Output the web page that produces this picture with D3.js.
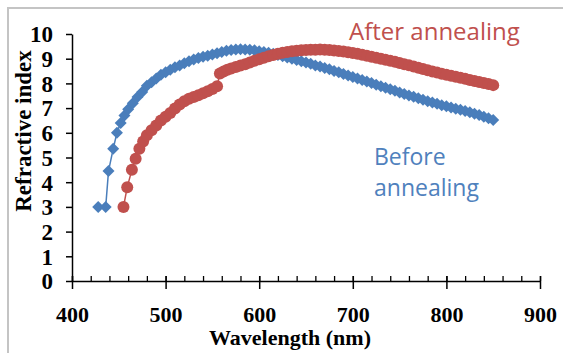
<!DOCTYPE html>
<html>
<head>
<meta charset="utf-8">
<script src="https://cdn.jsdelivr.net/npm/d3@7"></script>
<style>
  html, body { margin: 0; padding: 0; background: #fff; }
  svg { display: block; }
</style>
</head>
<body>
<svg id="chart" width="563" height="353"></svg>
<script>
// wavelength (nm) and refractive index
const beforeNm = [428, 436, 439, 444, 448, 452, 456, 460, 465, 470, 475, 480, 485, 490, 495, 500,
    505, 510, 515, 520, 525, 530, 535, 540, 545, 550, 555, 560, 565, 570, 575, 580, 585, 590, 595,
    600, 605, 610, 615, 620, 625, 630, 635, 640, 645, 650, 655, 660, 665, 670, 675, 680, 685, 690,
    695, 700, 705, 710, 715, 720, 725, 730, 735, 740, 745, 750, 755, 760, 765, 770, 775, 780, 785,
    790, 795, 800, 805, 810, 815, 820, 825, 830, 835, 840, 845, 850];
const beforeN = [3.0, 3.0, 4.45, 5.35, 6.0, 6.4, 6.7, 6.95, 7.2, 7.45, 7.65, 7.9, 8.05, 8.2, 8.35, 8.45,
    8.55, 8.65, 8.72, 8.82, 8.9, 8.97, 9.03, 9.08, 9.12, 9.17, 9.22, 9.27, 9.32, 9.35, 9.37, 9.38, 9.37, 9.36, 9.34,
    9.3, 9.27, 9.24, 9.2, 9.15, 9.1, 9.05, 9.0, 8.95, 8.9, 8.85, 8.8, 8.72, 8.68, 8.62, 8.57, 8.5, 8.45, 8.38,
    8.32, 8.26, 8.2, 8.14, 8.08, 8.02, 7.95, 7.88, 7.82, 7.76, 7.7, 7.63, 7.57, 7.51, 7.46, 7.4, 7.34, 7.28, 7.23,
    7.18, 7.12, 7.07, 7.02, 6.97, 6.93, 6.88, 6.83, 6.77, 6.72, 6.65, 6.59, 6.52];

const afterNm = [455, 459, 464, 468, 472, 476, 480, 485, 490, 495, 500, 505, 510, 515, 520, 525, 530,
    535, 540, 545, 550, 555, 558, 562, 566, 570, 575, 580, 585, 590, 595, 600, 605, 610, 615, 620, 625,
    630, 635, 640, 645, 650, 655, 660, 665, 670, 675, 680, 685, 690, 695, 700, 705, 710, 715, 720, 725,
    730, 735, 740, 745, 750, 755, 760, 765, 770, 775, 780, 785, 790, 795, 800, 805, 810, 815, 820, 825,
    830, 835, 840, 845, 850];
const afterN = [3.0, 3.8, 4.5, 4.95, 5.35, 5.65, 5.9, 6.1, 6.3, 6.5, 6.65, 6.8, 6.98, 7.15, 7.28, 7.38, 7.45,
    7.52, 7.6, 7.68, 7.77, 7.88, 8.4, 8.48, 8.55, 8.6, 8.66, 8.72, 8.78, 8.85, 8.92, 8.98, 9.04, 9.1, 9.15, 9.2, 9.24,
    9.27, 9.3, 9.32, 9.34, 9.35, 9.36, 9.36, 9.37, 9.36, 9.35, 9.33, 9.31, 9.29, 9.26, 9.23, 9.2, 9.16, 9.12, 9.08, 9.04,
    9.0, 8.96, 8.92, 8.88, 8.83, 8.78, 8.73, 8.68, 8.63, 8.58, 8.53, 8.48, 8.44, 8.39, 8.35, 8.31, 8.27, 8.23, 8.19, 8.14,
    8.1, 8.06, 8.02, 7.98, 7.93];

const xTicks = [400, 500, 600, 700, 800, 900];
const xMinorTicks = d3.range(400, 901, 20);
const yTicks = [0, 1, 2, 3, 4, 5, 6, 7, 8, 9, 10];

const blue = '#4a7ebb';
const red = '#c0504d';
const serif = '"Liberation Serif", "Times New Roman", serif';
const sans = '"Open Sans", sans-serif';

const svg = d3.select('#chart');

// chart frame (open at right and bottom, cropped)
svg.append('rect')
    .attr('x', 8).attr('y', 8)
    .attr('width', 700).attr('height', 500)
    .attr('fill', 'none')
    .attr('stroke', '#c4c4c4')
    .attr('stroke-width', 2);

const x = d3.scaleLinear().domain([400, 900]).range([72, 540]);
const y = d3.scaleLinear().domain([0, 10]).range([281, 34]);

// y axis
const yAxis = svg.append('g')
    .attr('transform', `translate(${x(400)},0)`)
    .call(d3.axisLeft(y).tickValues(yTicks).tickSize(6).tickPadding(13).tickSizeOuter(0));
yAxis.select('.domain').attr('stroke', '#000').attr('stroke-width', 1.5);
yAxis.selectAll('.tick line').attr('stroke', '#000').attr('stroke-width', 1.5);
yAxis.selectAll('.tick text')
    .attr('font-family', serif).attr('font-weight', 'bold').attr('font-size', 23)
    .attr('fill', '#000').attr('dy', '0.34em');

// x axis minor ticks (inside only)
const xMinor = svg.append('g')
    .attr('transform', `translate(0,${y(0)})`)
    .call(d3.axisTop(x).tickValues(xMinorTicks).tickSize(5).tickFormat('').tickSizeOuter(0));
xMinor.select('.domain').remove();
xMinor.selectAll('.tick line').attr('stroke', '#000').attr('stroke-width', 1.3);

// x axis major ticks crossing the line
const xAxis = svg.append('g')
    .attr('transform', `translate(0,${y(0)})`)
    .call(d3.axisBottom(x).tickValues(xTicks).tickSize(8).tickPadding(17).tickSizeOuter(0));
xAxis.select('.domain').attr('stroke', '#000').attr('stroke-width', 1.5);
xAxis.selectAll('.tick line').attr('y1', -5).attr('stroke', '#000').attr('stroke-width', 1.5);
xAxis.selectAll('.tick text')
    .attr('font-family', serif).attr('font-weight', 'bold').attr('font-size', 22)
    .attr('fill', '#000');

// axis titles
svg.append('text')
    .attr('x', 290).attr('y', 345)
    .attr('text-anchor', 'middle')
    .attr('font-family', serif).attr('font-weight', 'bold').attr('font-size', 22)
    .text('Wavelength (nm)');

svg.append('text')
    .attr('transform', 'translate(31,131) rotate(-90)')
    .attr('text-anchor', 'middle')
    .attr('font-family', serif).attr('font-weight', 'bold').attr('font-size', 23)
    .text('Refractive index');

// series
const line = d3.line().x(d => x(d[0])).y(d => y(d[1]));
const beforeData = d3.zip(beforeNm, beforeN);
const afterData = d3.zip(afterNm, afterN);

svg.append('path')
    .datum(beforeData)
    .attr('d', line)
    .attr('fill', 'none').attr('stroke', blue).attr('stroke-width', 1.5);

svg.append('g').selectAll('path')
    .data(beforeData)
    .join('path')
    .attr('d', 'M0,-6L6,0L0,6L-6,0Z')
    .attr('transform', d => `translate(${x(d[0])},${y(d[1])})`)
    .attr('fill', blue);

svg.append('path')
    .datum(afterData)
    .attr('d', line)
    .attr('fill', 'none').attr('stroke', red).attr('stroke-width', 1.5);

svg.append('g').selectAll('circle')
    .data(afterData)
    .join('circle')
    .attr('cx', d => x(d[0]))
    .attr('cy', d => y(d[1]))
    .attr('r', 6)
    .attr('fill', red);

// annotations
svg.append('text')
    .attr('x', 349).attr('y', 40)
    .attr('font-family', sans).attr('font-size', 24)
    .attr('fill', red)
    .text('After annealing');

svg.append('text')
    .attr('font-family', sans).attr('font-size', 23)
    .attr('fill', '#4f81bd')
    .selectAll('tspan')
    .data(['Before', 'annealing'])
    .join('tspan')
    .attr('x', 374)
    .attr('y', (d, i) => 165 + i * 31)
    .text(d => d);
</script>
</body>
</html>
